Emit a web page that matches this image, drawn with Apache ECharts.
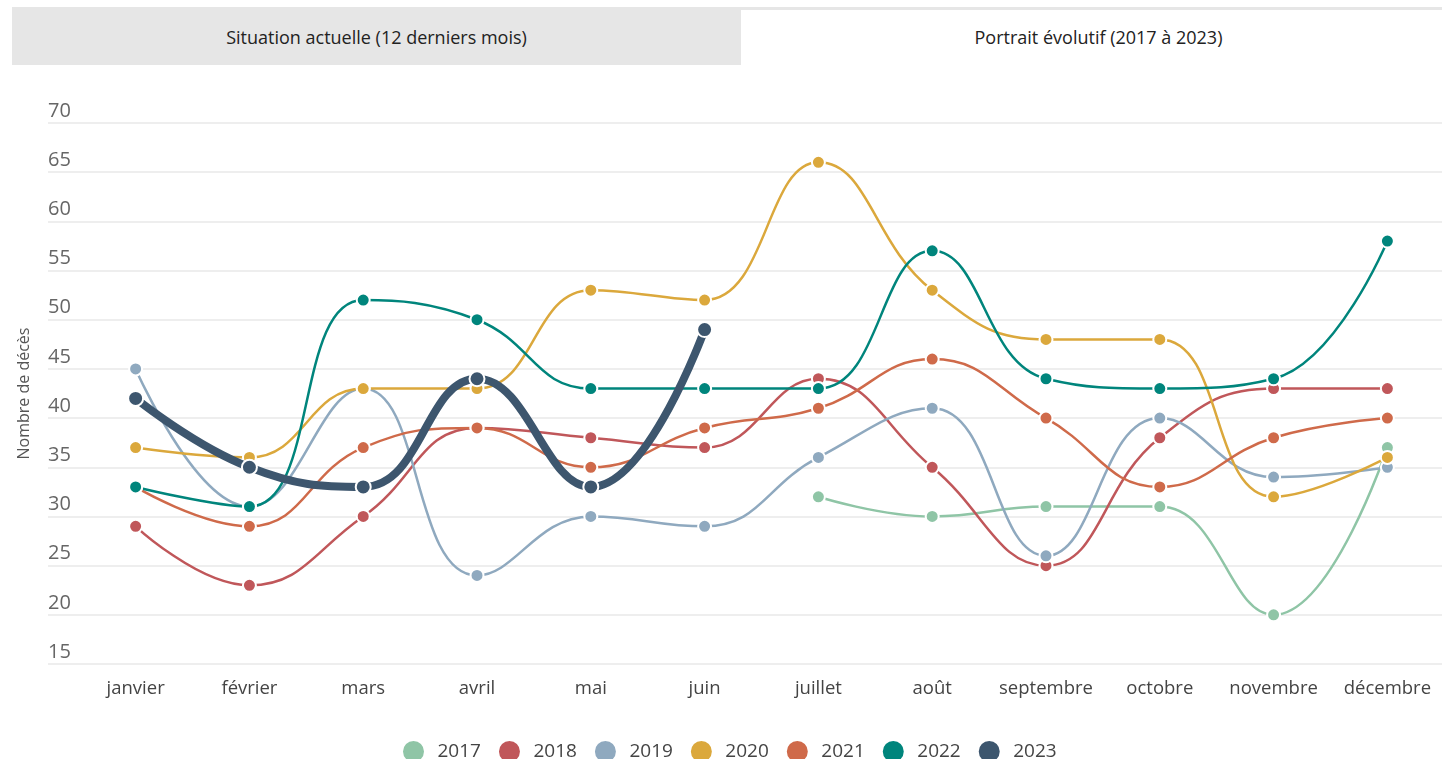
<!DOCTYPE html>
<html>
<head>
<meta charset="utf-8">
<script src="https://cdn.jsdelivr.net/npm/echarts@6/dist/echarts.min.js"></script>
<style>
  html, body { margin: 0; padding: 0; background: #fff; font-family: 'Open Sans', sans-serif; }
  .tabs { position: absolute; left: 12px; top: 7px; width: 1430px; height: 58px; background: #e6e6e6; }
  .tab { position: absolute; top: 0; height: 58px; line-height: 60px; text-align: center; font-size: 18px; color: #222; }
  .tab.left { left: 0; width: 729px; }
  .tab.right { left: 729px; top: 3px; width: 701px; height: 55px; line-height: 54px; background: #fff; padding-left: 14px; box-sizing: border-box; }
  #chart { position: absolute; left: 0; top: 0; width: 1442px; height: 759px; }
</style>
</head>
<body>
<div id="chart"></div>
<div class="tabs">
  <div class="tab left">Situation actuelle (12 derniers mois)</div>
  <div class="tab right">Portrait évolutif (2017 à 2023)</div>
</div>
<script>
const months = ['janvier', 'février', 'mars', 'avril', 'mai', 'juin', 'juillet', 'août', 'septembre', 'octobre', 'novembre', 'décembre']
const years = ['2017', '2018', '2019', '2020', '2021', '2022', '2023']
const colors = ['#8fc5a6', '#c0575a', '#8fa9bf', '#dba83c', '#cf6a4a', '#00857c', '#3d566e']

const d2017 = [null, null, null, null, null, null, 32, 30, 31, 31, 20, 37]
const d2018 = [29, 23, 30, 39, 38, 37, 44, 35, 25, 38, 43, 43]
const d2019 = [45, 31, 43, 24, 30, 29, 36, 41, 26, 40, 34, 35]
const d2020 = [37, 36, 43, 43, 53, 52, 66, 53, 48, 48, 32, 36]
const d2021 = [33, 29, 37, 39, 35, 39, 41, 46, 40, 33, 38, 40]
const d2022 = [33, 31, 52, 50, 43, 43, 43, 57, 44, 43, 44, 58]
const d2023 = [42, 35, 33, 44, 33, 49, null, null, null, null, null, null]

const yTicks = [15, 20, 25, 30, 35, 40, 45, 50, 55, 60, 65, 70]

const allData = [d2017, d2018, d2019, d2020, d2021, d2022, d2023]

const chart = echarts.init(document.getElementById('chart'))

const series = years.map((y, k) => {
  const last = k === years.length - 1
  return {
    name: y,
    type: 'line',
    smooth: 0.45,
    z: last ? 10 : 2,
    symbol: 'circle',
    symbolSize: last ? 15 : 13,
    itemStyle: { color: colors[k], borderColor: '#fff', borderWidth: 2 },
    lineStyle: { color: colors[k], width: last ? 8 : 2.5 },
    data: allData[k].map((v, i) => [i, v == null ? '-' : v])
  }
})

chart.setOption({
  animation: false,
  color: colors,
  textStyle: { fontFamily: 'Open Sans' },
  grid: { left: 48, right: 0, top: 123, bottom: 95, containLabel: false },
  legend: {
    bottom: -10,
    left: 396,
    icon: 'circle',
    itemWidth: 38,
    itemHeight: 23,
    itemGap: 16,
    textStyle: { fontSize: 19, color: '#444' },
    data: years
  },
  xAxis: {
    type: 'value',
    min: -0.77,
    max: 11.48,
    axisLine: { show: false },
    axisTick: { show: false },
    splitLine: { show: false },
    axisLabel: {
      customValues: months.map((m, i) => i),
      formatter: v => months[v],
      fontSize: 18.5,
      color: '#444',
      margin: 15
    }
  },
  yAxis: {
    type: 'value',
    min: yTicks[0],
    max: yTicks[yTicks.length - 1],
    interval: 5,
    name: 'Nombre de décès',
    nameLocation: 'middle',
    nameGap: 16,
    nameTextStyle: { fontSize: 16, color: '#555' },
    axisLine: { show: false },
    axisTick: { show: false },
    axisLabel: {
      inside: true,
      margin: 0,
      fontSize: 20,
      color: '#666',
      verticalAlign: 'bottom',
      padding: [0, 0, 2, 0]
    },
    splitLine: { lineStyle: { color: '#e8e8e8', width: 1.5 } }
  },
  series: series
})
</script>
</body>
</html>
